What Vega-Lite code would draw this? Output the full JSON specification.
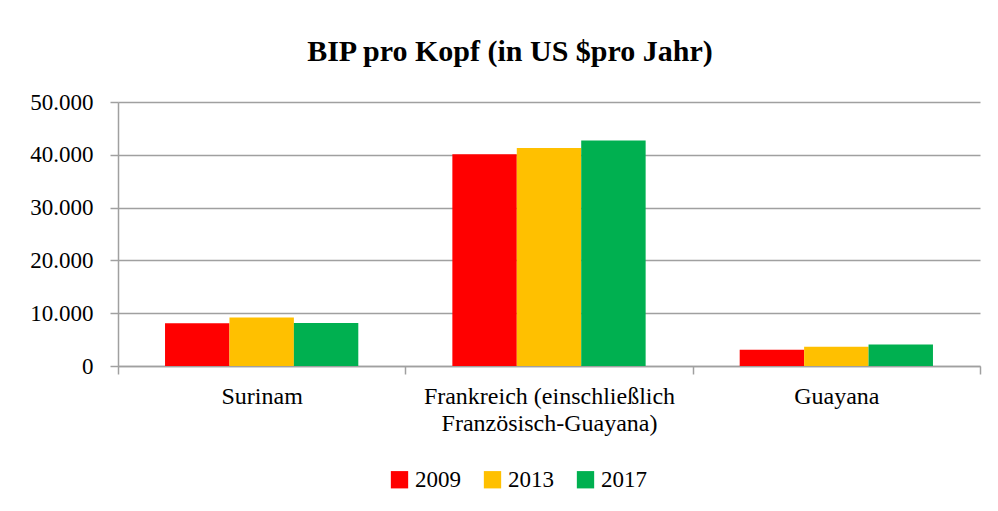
{
  "$schema": "https://vega.github.io/schema/vega-lite/v6.json",
  "width": 862,
  "height": 264,
  "autosize": {"type": "none"},
  "padding": {"left": 118, "top": 102, "right": 18, "bottom": 145},
  "background": "white",
  "title": {
    "text": "BIP pro Kopf  (in US $pro Jahr)",
    "font": "Liberation Serif",
    "fontSize": 30,
    "fontWeight": "bold",
    "color": "black",
    "anchor": "middle",
    "dx": -39,
    "offset": 24
  },
  "data": {
    "values": [
      {"country": "Surinam", "year": "2009", "value": 8100},
      {"country": "Surinam", "year": "2013", "value": 9200},
      {"country": "Surinam", "year": "2017", "value": 8150},
      {"country": "Frankreich (einschließlich|Französisch-Guayana)", "year": "2009", "value": 40100},
      {"country": "Frankreich (einschließlich|Französisch-Guayana)", "year": "2013", "value": 41300},
      {"country": "Frankreich (einschließlich|Französisch-Guayana)", "year": "2017", "value": 42700},
      {"country": "Guayana", "year": "2009", "value": 3100},
      {"country": "Guayana", "year": "2013", "value": 3650},
      {"country": "Guayana", "year": "2017", "value": 4050}
    ]
  },
  "mark": {"type": "bar"},
  "encoding": {
    "x": {
      "field": "country",
      "type": "nominal",
      "sort": null,
      "scale": {"paddingInner": 0, "paddingOuter": 0},
      "axis": {
        "title": null,
        "labelAngle": 0,
        "labelExpr": "split(datum.label, '|')",
        "labelFont": "Liberation Serif",
        "labelFontSize": 24,
        "labelColor": "black",
        "labelLineHeight": 27,
        "labelPadding": 10,
        "labelLimit": 400,
        "tickBand": "extent",
        "tickSize": 8,
        "tickColor": "#a0a0a0",
        "tickWidth": 1.5,
        "domainColor": "#a0a0a0",
        "domainWidth": 1.5,
        "grid": false
      }
    },
    "xOffset": {"field": "year", "type": "nominal", "scale": {"paddingInner": 0, "paddingOuter": 0.73}},
    "y": {
      "field": "value",
      "type": "quantitative",
      "scale": {"domain": [0, 50000]},
      "axis": {
        "title": null,
        "values": [0, 10000, 20000, 30000, 40000, 50000],
        "labelExpr": "replace(format(datum.value, ','), ',', '.')",
        "labelFont": "Liberation Serif",
        "labelFontSize": 23,
        "labelColor": "black",
        "labelPadding": 17,
        "tickSize": 8,
        "tickColor": "#a0a0a0",
        "tickWidth": 1.5,
        "domainColor": "#a0a0a0",
        "domainWidth": 1.5,
        "gridColor": "#a0a0a0",
        "gridWidth": 1.5
      }
    },
    "color": {
      "field": "year",
      "type": "nominal",
      "scale": {"domain": ["2009", "2013", "2017"], "range": ["#FF0000", "#FFC000", "#00B050"]},
      "legend": {
        "title": null,
        "orient": "none",
        "direction": "horizontal",
        "legendX": 270,
        "legendY": 366,
        "symbolType": "square",
        "symbolSize": 300,
        "symbolStrokeWidth": 0,
        "labelFont": "Liberation Serif",
        "labelFontSize": 23,
        "labelColor": "black",
        "labelOffset": 4,
        "columnPadding": 20
      }
    }
  },
  "config": {
    "view": {"stroke": null}
  }
}
